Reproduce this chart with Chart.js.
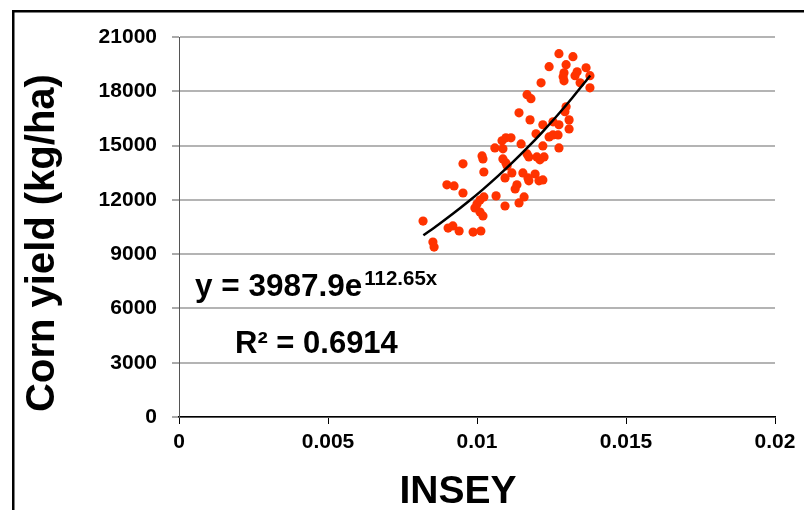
<!DOCTYPE html>
<html><head><meta charset="utf-8">
<script src="https://cdn.jsdelivr.net/npm/chart.js@4.4.1/dist/chart.umd.min.js"></script>
<style>html,body{margin:0;padding:0;background:#fff;overflow:hidden}canvas{display:block}</style>
</head><body>
<canvas id="c" width="804" height="510"></canvas>
<script>
const insey = [
  0.01275,0.01322,0.01242,0.01299,0.01292,0.01289,0.01292,0.01336,0.01329,0.01366,
  0.01379,0.01215,0.01346,0.01379,0.01168,0.01181,0.01141,0.01299,0.01295,0.01178,
  0.01309,0.01221,0.01275,0.01309,0.01255,0.01198,0.01242,0.01255,0.01272,0.01084,
  0.01097,0.01114,0.01060,0.01087,0.01148,0.01221,0.01275,0.01017,0.01020,0.01087,
  0.01097,0.01168,0.01174,0.01201,0.01225,0.01211,0.00953,0.01023,0.01101,0.01117,
  0.01154,0.01195,0.01171,0.01174,0.01208,0.01221,0.01094,0.00899,0.00923,0.00953,
  0.01134,0.01128,0.01023,0.01010,0.01064,0.01000,0.00993,0.01010,0.01020,0.01094,
  0.01141,0.01158,0.00819,0.00903,0.00919,0.00940,0.00987,0.01013,0.00852,0.00856
];
const cornYield = [
  20080,19910,19360,19470,19020,18800,18580,19080,18860,19300,
  18860,18470,18470,18190,17810,17590,16810,17140,16870,16420,
  16420,16150,16150,15920,16310,15650,15480,15590,15590,15260,
  15430,15430,14870,14820,15090,14980,14870,14430,14260,14260,
  14040,14540,14370,14370,14370,14210,13990,13540,13880,13490,
  13490,13430,13210,13050,13050,13100,13210,12830,12770,12380,
  12830,12600,12160,11990,12220,11770,11550,11330,11110,11660,
  11830,12160,10830,10440,10560,10280,10220,10280,9670,9390
];
const trendInsey = [0.0082,0.0087,0.0092,0.0097,0.0102,0.0107,0.0112,0.0117,0.0122,0.0127,0.0132,0.0137,0.0138];
const trendYield = [10044,10626,11242,11893,12582,13311,14083,14899,15762,16675,17642,18664,18875];
const xTickLabels = ['0','0.005','0.01','0.015','0.02'];
const yTickLabels = ['0','3000','6000','9000','12000','15000','18000','21000'];
const xTitle = 'INSEY';
const yTitle = 'Corn yield (kg/ha)';
const eqMain = 'y = 3987.9e';
const eqExp = '112.65x';
const eqR2 = 'R\u00B2 = 0.6914';

const FONT = '"Liberation Sans", Arial, sans-serif';

const deco = {
  id: 'deco',
  beforeDraw(chart) {
    const ctx = chart.ctx;
    ctx.save();
    ctx.fillStyle = '#ffffff';
    ctx.fillRect(0, 0, chart.width, chart.height);
    ctx.strokeStyle = '#000000';
    ctx.lineWidth = 2.5;
    ctx.strokeRect(13.25, 11.25, 820, 520);
    ctx.restore();
  },
  afterDraw(chart) {
    const ctx = chart.ctx;
    ctx.save();
    ctx.fillStyle = '#000000';
    // axis titles
    ctx.font = 'bold 39px ' + FONT;
    ctx.textAlign = 'center';
    ctx.textBaseline = 'alphabetic';
    ctx.fillText(xTitle, 458, 503);
    ctx.save();
    ctx.font = 'bold 40px ' + FONT;
    ctx.translate(54, 243);
    ctx.rotate(-Math.PI / 2);
    ctx.fillText(yTitle, 0, 0);
    ctx.restore();
    // equation
    ctx.textAlign = 'left';
    ctx.font = 'bold 31.5px ' + FONT;
    ctx.fillText(eqMain, 195, 296);
    const w = ctx.measureText(eqMain).width;
    ctx.font = 'bold 20.5px ' + FONT;
    ctx.fillText(eqExp, 195 + w + 2, 285);
    ctx.font = 'bold 31px ' + FONT;
    ctx.fillText(eqR2, 235, 353);
    ctx.restore();
  }
};

new Chart(document.getElementById('c'), {
  type: 'scatter',
  data: {
    datasets: [
      {
        label: 'trend',
        type: 'line',
        data: trendInsey.map((x, i) => ({x: x, y: trendYield[i]})),
        borderColor: '#000000',
        borderWidth: 2.5,
        pointRadius: 0,
        fill: false,
        tension: 0.3,
        order: 0
      },
      {
        label: 'yield',
        data: insey.map((x, i) => ({x: x, y: cornYield[i]})),
        backgroundColor: '#FF3300',
        borderWidth: 0,
        pointRadius: 4.6,
        pointHoverRadius: 4.6,
        order: 1
      }
    ]
  },
  options: {
    responsive: false,
    animation: false,
    devicePixelRatio: 1,
    layout: { padding: { left: 0, top: 37, right: 29, bottom: 0 } },
    plugins: { legend: { display: false }, tooltip: { enabled: false } },
    scales: {
      x: {
        type: 'linear',
        min: 0, max: 0.02,
        afterFit(s) { s.height = 93; },
        afterBuildTicks(s) { s.ticks = xTickLabels.map((t, i) => ({value: i * 0.005})); },
        ticks: {
          callback: (v, i) => xTickLabels[i],
          font: { family: FONT, size: 21, weight: 'bold' },
          color: '#000000',
          padding: 6,
          maxRotation: 0,
          autoSkip: false
        },
        grid: { drawOnChartArea: false, drawTicks: true, tickLength: 7, tickColor: '#000000', tickWidth: 1 },
        border: { color: '#000000', width: 1.5 },
        title: { display: false }
      },
      y: {
        type: 'linear',
        min: 0, max: 21000,
        afterFit(s) { s.width = 179; },
        afterBuildTicks(s) { s.ticks = yTickLabels.map((t, i) => ({value: i * 3000})); },
        ticks: {
          callback: (v, i) => yTickLabels[i],
          font: { family: FONT, size: 21, weight: 'bold' },
          color: '#000000',
          padding: 15,
          autoSkip: false
        },
        grid: { color: '#b4b4b4', lineWidth: 2, drawTicks: true, tickLength: 7, tickColor: '#555555', tickWidth: 1 },
        border: { color: '#555555', width: 1 },
        title: { display: false }
      }
    }
  },
  plugins: [deco]
});
</script>
</body></html>
